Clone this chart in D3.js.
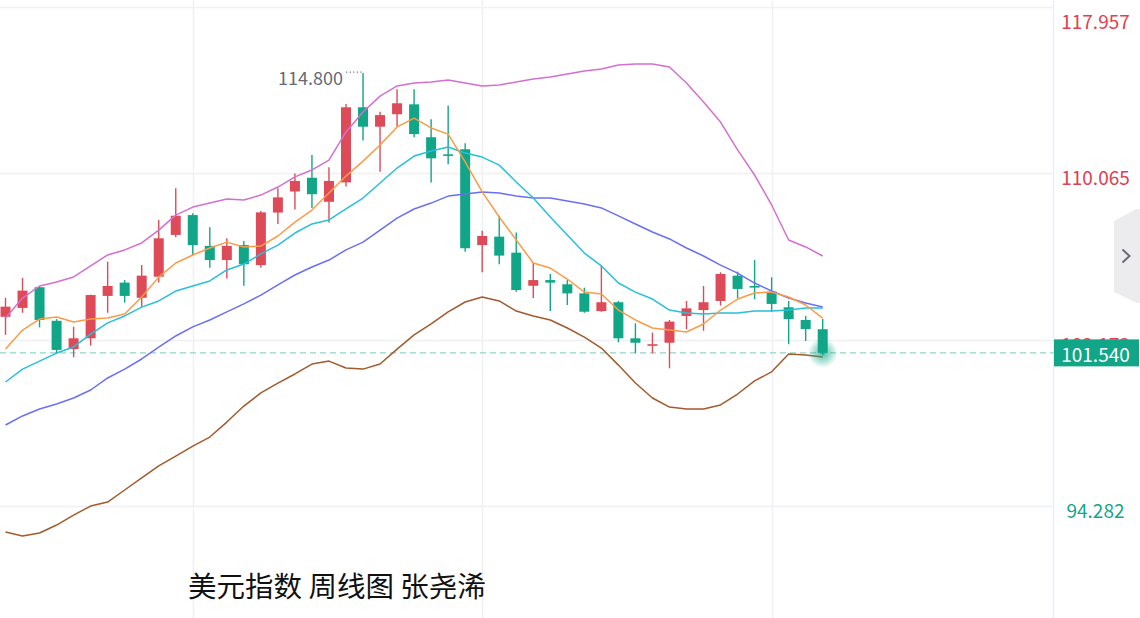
<!DOCTYPE html>
<html><head><meta charset="utf-8">
<script src="https://cdn.jsdelivr.net/npm/d3@7/dist/d3.min.js"></script>
<style>html,body{margin:0;padding:0;background:#fff;overflow:hidden}</style>
</head><body>
<svg id="c" width="1140" height="618"></svg>
<script>
// ---------- data ----------
const weeks = d3.range(1, 50).map(i => "W" + i);
const open  = [103.25,103.67,104.65,103.06,101.72,102.23,104.24,104.87,104.15,105.15,107.13,108.07,106.61,105.94,106.65,105.70,108.19,109.19,109.84,108.70,109.62,113.18,112.26,112.85,113.32,111.76,110.95,111.19,106.65,107.05,106.29,104.72,104.99,104.79,104.36,103.52,103.94,102.23,101.88,102.02,103.29,103.57,104.00,105.20,104.71,104.44,103.70,103.10,102.66];
const high  = [104.15,105.09,104.68,103.14,102.78,104.30,105.86,104.99,105.70,107.84,109.34,108.16,107.49,106.97,106.84,108.26,109.34,110.04,110.92,110.34,113.34,114.80,112.97,114.03,114.03,112.61,113.26,111.47,107.33,108.04,107.25,105.82,105.28,104.99,104.63,105.70,104.00,102.94,102.50,103.10,104.00,104.71,105.36,105.39,105.94,105.12,104.00,103.29,103.14];
const low   = [102.39,103.44,102.75,101.49,101.33,101.88,103.44,103.92,103.73,104.87,107.02,106.18,105.58,105.07,104.72,105.58,107.65,108.34,108.41,107.72,109.42,111.60,110.13,112.26,111.76,109.62,110.48,106.33,105.36,105.74,104.44,104.14,103.52,103.81,103.44,103.49,102.04,101.52,101.52,100.81,102.66,102.59,103.78,104.13,104.08,103.49,101.95,102.10,101.44];
const close = [103.73,104.49,103.10,101.68,102.23,104.28,104.71,104.24,105.20,106.97,108.04,106.65,105.94,106.61,105.74,108.20,108.91,109.69,109.06,109.69,113.18,112.26,112.81,113.37,111.91,110.76,110.90,106.50,107.08,106.15,104.52,104.99,104.87,104.36,103.49,103.94,102.23,102.02,101.95,103.02,103.65,103.94,105.28,104.57,104.65,103.86,103.14,102.67,101.54];

const ma5   = [101.72,102.62,103.14,103.24,103.00,103.14,103.19,103.38,104.19,105.13,105.80,106.18,106.51,106.79,106.56,106.60,107.08,107.74,108.31,109.12,109.92,110.63,111.39,112.25,112.67,112.20,111.91,110.59,109.17,107.98,106.89,105.80,105.56,105.04,104.42,104.33,103.57,103.10,102.72,102.62,102.53,102.91,103.57,104.09,104.38,104.42,104.19,103.81,103.19];
const ma10  = [100.16,100.77,101.15,101.53,101.82,102.43,102.96,103.29,103.71,104.00,104.47,104.71,104.95,105.47,105.75,106.23,106.65,107.22,107.65,107.84,108.36,108.88,109.59,110.30,110.87,111.11,111.30,111.01,110.82,110.44,109.64,108.88,107.98,107.13,106.27,105.66,104.85,104.42,104.09,103.57,103.43,103.38,103.43,103.43,103.52,103.52,103.57,103.67,103.67];
const ma20  = [98.12,98.55,98.88,99.12,99.40,99.78,100.35,100.77,101.25,101.81,102.34,102.77,103.10,103.48,103.86,104.28,104.76,105.23,105.61,105.94,106.42,106.79,107.36,107.93,108.36,108.64,108.97,109.07,109.16,109.12,108.97,108.88,108.88,108.74,108.60,108.41,108.03,107.65,107.27,106.94,106.51,106.13,105.70,105.32,104.85,104.47,104.14,103.90,103.71];
const bollUpper = [103.19,104.14,104.71,104.90,105.14,105.66,106.18,106.42,106.75,107.36,108.07,108.45,108.64,108.83,108.79,109.02,109.40,109.88,110.21,110.68,112.01,112.96,113.71,114.19,114.33,114.38,114.47,114.33,114.19,114.24,114.38,114.52,114.62,114.76,114.90,114.99,115.18,115.23,115.23,115.09,114.33,113.43,112.48,111.16,109.97,108.55,106.89,106.56,106.13];
const bollLower = [93.05,92.86,93.00,93.38,93.85,94.28,94.47,95.04,95.61,96.18,96.65,97.12,97.55,98.26,99.02,99.64,100.11,100.54,101.01,101.15,100.82,100.77,101.01,101.72,102.39,102.91,103.48,103.95,104.19,104.00,103.52,103.29,103.10,102.72,102.29,101.77,100.96,100.11,99.40,98.97,98.88,98.88,99.07,99.59,100.21,100.64,101.49,101.44,101.34];

const priceTicks = [117.957, 110.065, 102.173, 94.282];
const tickLabels = ["117.957", "110.065", "102.173", "94.282"];
const gridWeeks = ["W12", "W29", "W46"];
const lastPrice = 101.540;
const lastLabel = "101.540";
const peakWeek = "W22";
const peakPrice = 114.800;
const peakLabel = "114.800";
const title = "美元指数 周线图 张尧浠";

// ---------- setup ----------
const W = 1140, H = 618, plotRight = 1053.5;
const UP = "#dd4b58", DOWN = "#11a687";
const FONT = "'Noto Sans CJK SC','Noto Sans',sans-serif";
const svg = d3.select("#c");
const x = d3.scalePoint().domain(weeks).range([5.5, 822.7]);
const y = d3.scaleLinear().domain([94.282, 117.957]).range([506, 6.5]);

// grid
const grid = svg.append("g");
grid.selectAll("line.h").data(priceTicks).join("line")
  .attr("x1", 0).attr("x2", plotRight)
  .attr("y1", d => Math.round(y(d)) + 0.5).attr("y2", d => Math.round(y(d)) + 0.5)
  .attr("stroke", "#eff0f4").attr("stroke-width", 1.5);
grid.selectAll("line.v").data(gridWeeks).join("line")
  .attr("x1", d => Math.round(x(d)) + 0.5).attr("x2", d => Math.round(x(d)) + 0.5)
  .attr("y1", 0).attr("y2", H)
  .attr("stroke", "#eff0f4").attr("stroke-width", 1.5);
grid.append("line").attr("x1", plotRight).attr("x2", plotRight).attr("y1", 0).attr("y2", H)
  .attr("stroke", "#eceef3").attr("stroke-width", 1.5);

// last price dashed line
svg.append("line").attr("x1", 0).attr("x2", plotRight)
  .attr("y1", y(lastPrice)).attr("y2", y(lastPrice))
  .attr("stroke", "#8fd5c6").attr("stroke-width", 1.3).attr("stroke-dasharray", "6,4");

// candles
const candles = weeks.map((w, i) => ({w, o: open[i], h: high[i], l: low[i], c: close[i]}));
const cg = svg.append("g");
const bw = 10;
cg.selectAll("line").data(candles).join("line")
  .attr("x1", d => x(d.w)).attr("x2", d => x(d.w))
  .attr("y1", d => y(d.h)).attr("y2", d => y(d.l))
  .attr("stroke", d => d.c >= d.o ? UP : DOWN).attr("stroke-width", 1.4);
cg.selectAll("rect").data(candles).join("rect")
  .attr("x", d => x(d.w) - bw / 2).attr("width", bw)
  .attr("y", d => y(Math.max(d.o, d.c)))
  .attr("height", d => Math.max(1.6, Math.abs(y(d.o) - y(d.c))))
  .attr("fill", d => d.c >= d.o ? UP : DOWN);

// indicator lines
const line = d3.line().x((d, i) => x(weeks[i])).y(d => y(d));
const series = [
  {v: bollLower, c: "#a35a2c"},
  {v: bollUpper, c: "#d56fcf"},
  {v: ma20, c: "#6a70f2"},
  {v: ma10, c: "#27bfdc"},
  {v: ma5, c: "#fb9c46"}
];
svg.append("g").selectAll("path").data(series).join("path")
  .attr("d", d => line(d.v)).attr("fill", "none")
  .attr("stroke", d => d.c).attr("stroke-width", 1.5).attr("stroke-linejoin", "round");

// glow on last candle
const defs = svg.append("defs");
const rg = defs.append("radialGradient").attr("id", "glow");
rg.append("stop").attr("offset", "0%").attr("stop-color", DOWN).attr("stop-opacity", 0.75);
rg.append("stop").attr("offset", "55%").attr("stop-color", DOWN).attr("stop-opacity", 0.35);
rg.append("stop").attr("offset", "100%").attr("stop-color", DOWN).attr("stop-opacity", 0);
svg.append("circle").attr("cx", x(weeks[weeks.length - 1])).attr("cy", y(lastPrice))
  .attr("r", 15).attr("fill", "url(#glow)");

// peak annotation
const px = x(peakWeek), py = y(peakPrice);
svg.append("line").attr("x1", px - 17).attr("x2", px).attr("y1", py - 1).attr("y2", py - 1)
  .attr("stroke", "#6b7080").attr("stroke-width", 1.2).attr("stroke-dasharray", "1.2,2.4");
svg.append("text").attr("x", px - 20).attr("y", py + 4).attr("dominant-baseline", "central")
  .attr("text-anchor", "end").attr("font-family", FONT).attr("font-size", 18)
  .attr("fill", "#646a78").text(peakLabel);

// right axis labels
svg.append("g").selectAll("text").data(priceTicks).join("text")
  .attr("x", 1095.5).attr("y", d => Math.max(y(d) + 3.5, 20))
  .attr("text-anchor", "middle").attr("dominant-baseline", "central")
  .attr("font-family", FONT).attr("font-size", 19)
  .attr("fill", d => d > lastPrice ? "#e0404f" : "#13a689")
  .text((d, i) => tickLabels[i]);

// last price box
svg.append("rect").attr("x", plotRight + 0.5).attr("y", y(lastPrice) - 13.5)
  .attr("width", 85).attr("height", 27).attr("fill", "#10a687");
svg.append("text").attr("x", 1095.5).attr("y", y(lastPrice) + 0.5)
  .attr("text-anchor", "middle").attr("dominant-baseline", "central")
  .attr("font-family", FONT).attr("font-size", 19).attr("fill", "#fff").text(lastLabel);

// side tab
svg.append("path").attr("d", "M1114,221 L1136,209 L1140,209 L1140,303 L1137,303 L1114,292 Z")
  .attr("fill", "#ececef");
svg.append("path").attr("d", "M1122.5,249.5 L1129.5,256 L1122.5,262.5")
  .attr("fill", "none").attr("stroke", "#676c78").attr("stroke-width", 2);

// title
svg.append("text").attr("x", 188).attr("y", 584).attr("dominant-baseline", "central")
  .attr("font-family", FONT).attr("font-size", 28.5).attr("fill", "#111").text(title);
</script>
</body></html>
